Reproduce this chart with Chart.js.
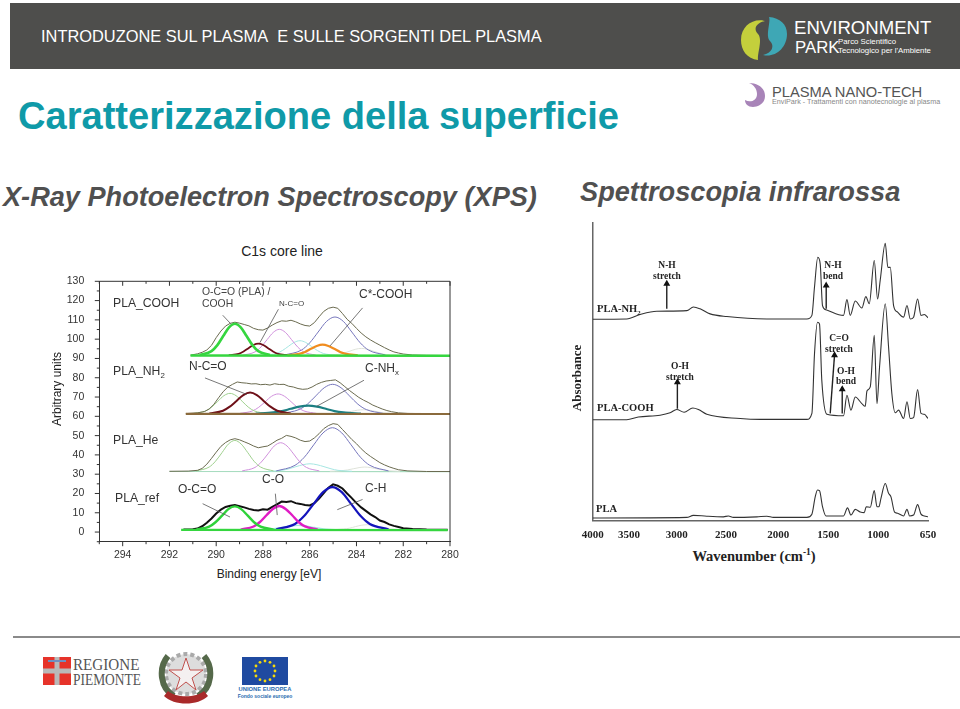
<!DOCTYPE html>
<html lang="it">
<head>
<meta charset="utf-8">
<title>Caratterizzazione della superficie</title>
<script src="https://cdn.jsdelivr.net/npm/chart.js@4"></script>
<style>
  html, body { margin: 0; padding: 0; background: #fff; }
  body { width: 960px; height: 709px; position: relative; overflow: hidden; font-family: "Liberation Sans", Arial, sans-serif; }
  .t { position: absolute; white-space: nowrap; line-height: 1; transform: translateY(-50%); color: #333; }
  .c { transform: translate(-50%, -50%); }
  .ftir { font-family: "Liberation Serif", serif; font-weight: bold; color: #222; }
  canvas, svg { position: absolute; }
  sub { font-size: 65%; line-height: 0; }
  sup { font-size: 65%; line-height: 0; }
  #header { position: absolute; left: 10px; top: 3px; width: 950px; height: 66px; background: #4e4e4c; }
  #footline { position: absolute; left: 13px; top: 636px; width: 947px; height: 2px; background: #8a8a8a; }
</style>
</head>
<body>
<div id="header"></div>
<div class="t" style="left:41px;top:36px;font-size:16.4px;color:#fff">INTRODUZONE SUL PLASMA&nbsp; E SULLE SORGENTI DEL PLASMA</div>

<svg style="left:738px;top:14px" width="52" height="48" viewBox="0 0 52 48">
  <path d="M3 26 C3 12 15 4 27 7 C18 9 15 15 20 20 C25 25 19 40 20 46 C9 45 3 36 3 26 Z" fill="#c4cf3c"/>
  <path d="M49 20 C49 34 37 44 25 41 C34 39 37 32 32 27 C27 22 33 8 31 3 C42 4 49 10 49 20 Z" fill="#3ea7b5"/>
</svg>
<div class="t" style="left:794px;top:28px;font-size:18.6px;color:#fff">ENVIRONMENT</div>
<div class="t" style="left:795px;top:48px;font-size:16.8px;color:#fff">PARK</div>
<div class="t" style="left:838px;top:42px;font-size:7.8px;color:#fff">Parco Scientifico</div>
<div class="t" style="left:838px;top:51px;font-size:7.8px;color:#fff">Tecnologico per l'Ambiente</div>
<svg style="left:744px;top:82px" width="22" height="26" viewBox="0 0 22 26">
  <path d="M5 1 C14 1 21 6 21 14 C21 21 15 25 9 25 C4 25 1 22 1 18 C6 21 13 19 13 12 C13 7 10 3 5 1 Z" fill="#a884b8"/>
</svg>
<div class="t" style="left:772px;top:92px;font-size:14.7px;color:#555">PLASMA NANO-TECH</div>
<div class="t" style="left:772px;top:102px;font-size:7.2px;color:#888">EnviPark - Trattamenti con nanotecnologie al plasma</div>

<div class="t" style="left:18px;top:116px;font-size:38.1px;font-weight:bold;color:#0f9aa8">Caratterizzazione della superficie</div>
<div class="t" style="left:3px;top:197px;font-size:27.15px;font-weight:bold;font-style:italic;color:#505050">X-Ray Photoelectron Spectroscopy (XPS)</div>
<div class="t" style="left:580px;top:192px;font-size:27.2px;font-weight:bold;font-style:italic;color:#505050">Spettroscopia infrarossa</div>

<div class="t c" style="left:282px;top:251px;font-size:14px;color:#222">C1s core line</div>

<canvas id="graficoXps" width="410" height="298" style="left:50px;top:268px"></canvas>
<canvas id="graficoFtir" width="390" height="325" style="left:560px;top:215px"></canvas>

<!-- etichette XPS -->
<div class="t" style="left:113px;top:303px;font-size:12.2px">PLA_COOH</div>
<div class="t" style="left:202px;top:292px;font-size:10.4px;color:#444">O-C=O (PLA) /</div>
<div class="t" style="left:202px;top:304px;font-size:10.4px;color:#444">COOH</div>
<div class="t" style="left:279px;top:304px;font-size:8px;color:#444">N-C=O</div>
<div class="t" style="left:359px;top:294px;font-size:12px">C*-COOH</div>
<div class="t" style="left:113px;top:371px;font-size:12.2px">PLA_NH<sub>2</sub></div>
<div class="t" style="left:189px;top:366px;font-size:12px">N-C=O</div>
<div class="t" style="left:365px;top:368px;font-size:12px">C-NH<sub>x</sub></div>
<div class="t" style="left:113px;top:440px;font-size:12.2px">PLA_He</div>
<div class="t" style="left:115px;top:498px;font-size:12.2px">PLA_ref</div>
<div class="t" style="left:178px;top:489px;font-size:12px">O-C=O</div>
<div class="t" style="left:262px;top:479px;font-size:12px">C-O</div>
<div class="t" style="left:365px;top:488px;font-size:12px">C-H</div>
<div class="t c" style="left:269px;top:574px;font-size:12px;color:#222">Binding energy [eV]</div>
<div class="t c" style="left:57px;top:389px;font-size:12px;color:#222;transform:translate(-50%,-50%) rotate(-90deg)">Arbitrary units</div>

<!-- etichette FTIR -->
<div class="t c ftir" style="left:667px;top:266px;font-size:9.5px">N-H</div>
<div class="t c ftir" style="left:667px;top:277px;font-size:9.5px">stretch</div>
<div class="t c ftir" style="left:833px;top:266px;font-size:9.5px">N-H</div>
<div class="t c ftir" style="left:833px;top:277px;font-size:9.5px">bend</div>
<div class="t ftir" style="left:597px;top:309px;font-size:10.5px">PLA-NH<sub>2</sub></div>
<div class="t c ftir" style="left:680px;top:367px;font-size:9.5px">O-H</div>
<div class="t c ftir" style="left:680px;top:378px;font-size:9.5px">stretch</div>
<div class="t c ftir" style="left:839px;top:339px;font-size:9.5px">C=O</div>
<div class="t c ftir" style="left:839px;top:350px;font-size:9.5px">stretch</div>
<div class="t c ftir" style="left:846px;top:372px;font-size:9.5px">O-H</div>
<div class="t c ftir" style="left:846px;top:382px;font-size:9.5px">bend</div>
<div class="t ftir" style="left:597px;top:408px;font-size:10.5px">PLA-COOH</div>
<div class="t ftir" style="left:596px;top:509px;font-size:10.5px">PLA</div>
<div class="t c ftir" style="left:576px;top:378px;font-size:13px;transform:translate(-50%,-50%) rotate(-90deg)">Absorbance</div>
<div class="t c ftir" style="left:754px;top:556px;font-size:14.5px">Wavenumber (cm<sup>-1</sup>)</div>

<div id="footline"></div>
<svg style="left:43px;top:657px" width="28" height="28" viewBox="0 0 28 28">
  <rect width="28" height="28" fill="#e6332a"/>
  <rect x="11.5" width="5" height="28" fill="#b9b9b9"/>
  <rect y="11.5" width="28" height="5" fill="#b9b9b9"/>
  <rect x="5" y="3" width="18" height="2" fill="#6f8fc0"/>
</svg>
<div class="t" style="left:73px;top:664px;font-family:'Liberation Serif',serif;font-size:17px;color:#555;transform-origin:left center;transform:translateY(-50%) scaleX(.89)">REGIONE</div>
<div class="t" style="left:73px;top:679px;font-family:'Liberation Serif',serif;font-size:17px;color:#555;transform-origin:left center;transform:translateY(-50%) scaleX(.79)">PIEMONTE</div>
<svg style="left:158px;top:646px" width="56" height="62" viewBox="0 0 56 62">
  <circle cx="28" cy="28" r="20" fill="#ddd" stroke="#aaa" stroke-width="4" stroke-dasharray="4 3"/>
  <path d="M10 10 C0 22 2 42 16 50" fill="none" stroke="#55694a" stroke-width="6"/>
  <path d="M46 10 C56 22 54 42 40 50" fill="none" stroke="#55694a" stroke-width="6"/>
  <path d="M28 12 L32 24 L45 24 L34 32 L38 44 L28 36 L18 44 L22 32 L11 24 L24 24 Z" fill="#f4f0f0" stroke="#c0504d" stroke-width="1"/>
  <path d="M6 50 C16 60 40 60 50 50 L46 45 C38 52 18 52 10 45 Z" fill="#a92a2a"/>
</svg>
<svg style="left:242px;top:657px" width="46" height="28" viewBox="0 0 46 28">
  <rect width="46" height="28" fill="#1f4aa0"/>
  <g fill="#f5d90a">
    <circle cx="23" cy="4" r="1.4"/><circle cx="28" cy="5.3" r="1.4"/><circle cx="32" cy="9" r="1.4"/>
    <circle cx="33" cy="14" r="1.4"/><circle cx="32" cy="19" r="1.4"/><circle cx="28" cy="22.7" r="1.4"/>
    <circle cx="23" cy="24" r="1.4"/><circle cx="18" cy="22.7" r="1.4"/><circle cx="14" cy="19" r="1.4"/>
    <circle cx="13" cy="14" r="1.4"/><circle cx="14" cy="9" r="1.4"/><circle cx="18" cy="5.3" r="1.4"/>
  </g>
</svg>
<div class="t c" style="left:265px;top:690px;font-size:5.8px;font-weight:bold;color:#2b6cb0">UNIONE EUROPEA</div>
<div class="t c" style="left:265px;top:696px;font-size:5px;font-weight:bold;color:#2b6cb0">Fondo sociale europeo</div>

<script>
// --- XPS: energie (eV) e intensita', una coppia per curva ---
const coohEnvE = [291.1,290.8,290.6,290.4,290.2,290,289.8,289.6,289.4,289.2,289,288.8,288.6,288.4,288.2,288,287.8,287.6,287.4,287.2,287,286.8,286.6,286.4,286.2,286,285.8,285.6,285.4,285.2,285,284.8,284.6,284.4,284.2,284,283.8,283.6,283.4,283.2,283,282.8,282.6,282.4,282.2,282,281.6,281,280];
const coohEnvY = [91.7,92.4,93.2,94.4,96.8,100.8,104.2,106.8,108.2,108.8,108.3,107.6,106.9,105.6,104.9,104.7,105.8,107.3,108.6,109.5,109.3,109.8,109,107.9,107.1,106.8,108.6,111.6,114.4,116,116.6,116,113.3,110.3,108.2,105.6,103.2,101.2,99.6,98.2,96.9,95.6,94.4,93.4,92.8,92.3,91.8,91.6,91.5];
const coohGreenE = [290.7,290.2,289.95,289.7,289.45,289.2,288.95,288.7,288.45,288.2,287.7];
const coohGreenY = [91.8,93.8,96.9,101.6,106.1,108,106.1,101.6,96.9,93.8,91.8];
const coohRedE = [289.46,289.04,288.83,288.62,288.41,288.2,287.99,287.78,287.57,287.36,286.94];
const coohRedY = [91.7,92.4,93.6,95.3,97,97.7,97,95.3,93.6,92.4,91.7];
const coohMagE = [288.86,288.34,288.08,287.82,287.56,287.3,287.04,286.78,286.52,286.26,285.74];
const coohMagY = [91.7,93.4,96,99.8,103.5,105.1,103.5,99.8,96,93.4,91.7];
const coohCyanE = [287.92,287.42,287.17,286.92,286.67,286.42,286.17,285.92,285.67,285.42,284.92];
const coohCyanY = [91.7,92.6,94.1,96.2,98.3,99.2,98.3,96.2,94.1,92.6,91.7];
const coohOrangeE = [286.95,286.45,286.2,285.95,285.7,285.45,285.2,284.95,284.7,284.45,283.95];
const coohOrangeY = [91.7,92.4,93.4,95,96.5,97.2,96.5,95,93.4,92.4,91.7];
const coohBlueE = [287.08,286.36,286,285.64,285.28,284.92,284.56,284.2,283.84,283.48,282.76];
const coohBlueY = [91.8,94.3,98.1,103.7,109.2,111.5,109.2,103.7,98.1,94.3,91.8];
const coohPaleE = [285.28,284.78,284.53,284.28,284.03,283.78,283.53,283.28,283.03,282.78,282.28];
const coohPaleY = [91.6,92.1,92.8,93.8,94.8,95.2,94.8,93.8,92.8,92.1,91.6];
const coohBaseE = [291.1,280];
const coohBaseY = [91.5,91.4];

const nh2EnvE = [291.3,290.8,290.5,290.3,290.1,289.9,289.7,289.5,289.3,289.1,288.9,288.7,288.5,288.3,288.1,287.9,287.7,287.5,287.3,287.1,286.9,286.7,286.5,286.3,286.1,285.9,285.7,285.5,285.3,285.1,284.9,284.7,284.5,284.3,284.1,283.9,283.7,283.5,283.3,283.1,282.9,282.7,282.5,282.2,281.8,281,280];
const nh2EnvY = [61.4,61.8,62.5,63.8,66.2,69.6,72.8,75.2,76.6,77.8,77.4,77.2,76.8,76.9,76.4,76.6,76.2,76.9,76.5,76.6,75.6,75.2,74.4,74,74.2,75.2,76.6,77.6,78.3,78.6,78.9,77.4,75.4,73.4,71.6,69.8,68.4,67.2,65.8,64.8,63.8,63,62.4,61.8,61.5,61.4,61.3];
const nh2GreenE = [290.97,290.45,290.19,289.93,289.67,289.41,289.15,288.89,288.63,288.37,287.85];
const nh2GreenY = [61.5,62.8,64.8,67.8,70.7,71.9,70.7,67.8,64.8,62.8,61.5];
const nh2RedE = [290.29,289.71,289.42,289.13,288.84,288.55,288.26,287.97,287.68,287.39,286.81];
const nh2RedY = [61.5,62.9,65,68,71,72.3,71,68,65,62.9,61.5];
const nh2MagE = [289,288.45,288.18,287.9,287.63,287.35,287.08,286.8,286.53,286.25,285.7];
const nh2MagY = [61.5,62.8,64.7,67.6,70.4,71.6,70.4,67.6,64.7,62.8,61.5];
const nh2TealE = [288.31,287.56,287.19,286.81,286.44,286.06,285.69,285.31,284.94,284.56,283.81];
const nh2TealY = [61.4,62,62.7,63.9,65,65.5,65,63.9,62.7,62,61.4];
const nh2BlueE = [287.18,286.46,286.1,285.74,285.38,285.02,284.66,284.3,283.94,283.58,282.86];
const nh2BlueY = [61.5,63.5,66.3,70.6,74.8,76.6,74.8,70.6,66.3,63.5,61.5];
const nh2PaleE = [285.2,284.7,284.45,284.2,283.95,283.7,283.45,283.2,282.95,282.7,282.2];
const nh2PaleY = [61.4,61.7,62,62.6,63.2,63.4,63.2,62.6,62,61.7,61.4];
const nh2BaseE = [291.3,280];
const nh2BaseY = [61.3,61.2];

const heEnvE = [292,291.2,290.8,290.6,290.4,290.2,290,289.8,289.6,289.4,289.2,289,288.8,288.6,288.4,288.2,288,287.8,287.6,287.4,287.2,287,286.8,286.6,286.4,286.2,286,285.8,285.6,285.4,285.2,285,284.8,284.6,284.4,284.2,284,283.8,283.6,283.4,283.2,283,282.8,282.6,282.4,282.2,281.8,281,280];
const heEnvY = [31.5,31.6,32,33,35.2,38.2,41.4,44.4,46.4,47.8,48.4,47.8,46.8,45.8,44.6,43.7,44.2,44.6,46,47.6,48.6,50.1,49.6,48.8,47.6,46.9,47.2,48.8,51,53.6,55.2,56.2,55.8,53.2,50.6,48,45.8,43.2,41,39.2,37.6,36,34.8,33.8,33,32.3,31.7,31.4,31.4];
const heGreenE = [290.85,290.3,290.03,289.75,289.48,289.2,288.93,288.65,288.38,288.1,287.55];
const heGreenY = [31.7,33.7,36.7,41.2,45.6,47.5,45.6,41.2,36.7,33.7,31.7];
const heMagE = [288.89,288.34,288.07,287.79,287.52,287.24,286.97,286.69,286.42,286.14,285.59];
const heMagY = [31.7,33.5,36.3,40.5,44.6,46.3,44.6,40.5,36.3,33.5,31.7];
const heBlueE = [287.43,286.63,286.23,285.83,285.43,285.03,284.63,284.23,283.83,283.43,282.63];
const heBlueY = [31.7,34.6,38.8,45.2,51.4,54.1,51.4,45.2,38.8,34.6,31.7];
const heCyanE = [287.79,287.19,286.89,286.59,286.29,285.99,285.69,285.39,285.09,284.79,284.19];
const heCyanY = [31.5,32,32.8,33.9,34.9,35.4,34.9,33.9,32.8,32,31.5];
const hePaleE = [285.14,284.64,284.39,284.14,283.89,283.64,283.39,283.14,282.89,282.64,282.14];
const hePaleY = [31.5,31.8,32.2,32.8,33.4,33.7,33.4,32.8,32.2,31.8,31.5];
const heBaseE = [292,280];
const heBaseY = [31.4,31.3];

const refEnvE = [291.4,291,290.8,290.6,290.4,290.2,290,289.8,289.6,289.4,289.2,289,288.8,288.6,288.4,288.2,288,287.8,287.6,287.4,287.2,287,286.8,286.6,286.4,286.2,286,285.8,285.6,285.4,285.2,285,284.8,284.6,284.4,284.2,284,283.8,283.6,283.4,283.2,283,282.8,282.6,282.4,282.2,282,281.6,281,280.1];
const refEnvY = [1.3,1.5,1.8,3,4.8,7,9.6,11.6,13,13.6,14,13.4,12.8,12,11.4,11.2,11.8,11.6,13,14.4,15.8,15.6,16,15,14.6,14,13.8,15,17.4,20.2,23,24.7,24,22.6,20,17.6,15,12.8,11,9.2,7.8,6,5.2,4,3.2,2.6,2,1.6,1.3,1.2];
const refGreenY = [1.3,2.8,5.1,8.5,11.9,13.3,11.9,8.5,5.1,2.8,1.3];
const refMagE = [288.95,288.4,288.13,287.85,287.58,287.3,287.03,286.75,286.48,286.2,285.65];
const refMagY = [1.3,2.9,5.2,8.7,12,13.5,12,8.7,5.2,2.9,1.3];
const refBlueY = [1.4,4.2,8.4,14.6,20.7,23.3,20.7,14.6,8.4,4.2,1.4];
const refCyanE = [288.3,287.7,287.4,287.1,286.8,286.5,286.2,285.9,285.6,285.3,284.7];
const refCyanY = [1.2,1.5,2,2.6,3.2,3.5,3.2,2.6,2,1.5,1.2];
const refPaleE = [285.05,284.55,284.3,284.05,283.8,283.55,283.3,283.05,282.8,282.55,282.05];
const refPaleY = [1.2,1.6,2,2.8,3.5,3.8,3.5,2.8,2,1.6,1.2];
const refBaseE = [291.5,280.1];
const refBaseY = [1.1,1];

// linee guida delle etichette: [E1, y1, E2, y2]
const guideLines = [
  [289.72,112.4,289.38,108],
  [287.34,115.5,288.13,98.2],
  [283.74,116.2,285.13,96.5],
  [290.48,79.9,288.7,71.4],
  [283.68,78.7,285.7,65.2],
  [290.58,14.7,289.41,7.8],
  [287.47,19.9,287.39,8.8],
  [283.74,16.9,284.82,11.6]
];

// --- FTIR ---
const plaCm = [4000,3060,2994,2860,2694,2644,2594,2360,2260,2194,1860,1810,1777,1754,1734,1704,1670,1494,1454,1420,1377,1327,1287,1267,1227,1187,1160,1140,1120,1077,1044,1020,984,954,894,860,834,794,754,720,687,650];
const plaAbs = [0.9,1.1,1.8,1.5,1.3,1.6,1.1,1.3,1.5,1.1,1.1,2.2,8,10.3,10.1,4.7,1.6,1.6,4.3,1.9,3.8,2.9,2.7,4.7,4.5,10.1,4.7,4.7,7.5,12.5,9.2,8,2.9,2.5,1.6,3.8,1.6,1.9,5.4,2.2,1.6,1.3];
const coohCm = [4000,3660,3544,3327,3227,3160,3087,3000,2944,2860,2527,2327,1860,1810,1784,1754,1734,1711,1660,1494,1460,1420,1377,1311,1277,1260,1227,1187,1160,1134,1077,1044,1011,977,944,894,860,827,794,754,720,687,650];
const coohAbs = [33.9,33.9,34.8,35.4,36.2,37.3,36.4,37.8,37.3,35.7,34.3,34,34,36,56,66.6,66,47.1,35.7,35.2,42.1,37.1,41.5,39.3,38.4,43.5,44.9,62.2,39.3,51.6,72.8,58.3,42.6,36.2,37.1,34.3,39.9,34.3,34.6,44,36,35.7,34.3];
const nh2Cm = [4000,3660,3527,3360,3060,2994,2927,2827,2660,2260,1860,1810,1784,1751,1727,1704,1670,1494,1460,1427,1377,1311,1271,1237,1187,1154,1127,1077,1051,1027,994,954,894,860,827,794,754,720,687,650];
const nh2Abs = [67.6,67.7,69.2,70.3,70.5,71.7,71.1,69.4,68.5,67.7,67.7,68.9,78.4,88.4,86.2,72.2,70.8,68.9,74.2,68.9,73.7,71.4,75.2,72.8,87.3,74.4,80.8,93.1,85,85,72.2,70,68.3,72.2,67.7,68.3,74.4,68.9,69.2,68.1];

// la scala stampata nella figura non e' regolare: posizione sull'asse e testo stampato
const ftirTickPos = [4000,3637,3160,2667,2147,1647,1147,650];
const ftirTickLabels = ['4000','3500','3000','2500','2000','1500','1000','650'];

// frecce: [cm1, abs1, cm2, abs2], la punta e' sul secondo punto
const ftirArrows = [
  [3260,71.1,3260,79.5],
  [1667,71.1,1667,78.9],
  [3154,37.6,3154,46.5],
  [1627,36,1584,55.5],
  [1507,36,1507,44.1]
];

function punti(xs, ys) {
  return xs.map((x, i) => ({ x, y: ys[i] }));
}

function curva(xs, ys, color, width, liscia) {
  return {
    data: punti(xs, ys),
    borderColor: color,
    borderWidth: width,
    pointRadius: 0,
    showLine: true,
    fill: false,
    cubicInterpolationMode: liscia ? 'monotone' : 'default',
    tension: 0
  };
}

const cGreen = '#35d63f', cGreenThin = '#9fd08e', cRed = '#6e1018', cMag = '#d090dc', cCyan = '#a6e6e2';
const cOrange = '#f08c1e', cBlue = '#7676bc', cPale = '#dfe3da', cEnv = '#6b6b50';

// i primi dataset finiscono sopra, quindi prima i tratti spessi
const xpsDatasets = [
  curva(coohGreenE, coohGreenY, cGreen, 2.6, true),
  curva(coohBaseE, coohBaseY, cGreen, 2.4),
  curva(coohOrangeE, coohOrangeY, cOrange, 2.2, true),
  curva(coohRedE, coohRedY, cRed, 1.8, true),
  curva(coohEnvE, coohEnvY, cEnv, 1),
  curva(coohMagE, coohMagY, cMag, 1, true),
  curva(coohCyanE, coohCyanY, cCyan, 1, true),
  curva(coohBlueE, coohBlueY, cBlue, 1, true),
  curva(coohPaleE, coohPaleY, cPale, 1, true),

  curva(nh2BaseE, nh2BaseY, '#8a6a3c', 2.2),
  curva(nh2RedE, nh2RedY, cRed, 2, true),
  curva(nh2TealE, nh2TealY, '#1c7f82', 2.2, true),
  curva(nh2EnvE, nh2EnvY, cEnv, 1),
  curva(nh2GreenE, nh2GreenY, cGreenThin, 1, true),
  curva(nh2MagE, nh2MagY, cMag, 1, true),
  curva(nh2BlueE, nh2BlueY, cBlue, 1, true),
  curva(nh2PaleE, nh2PaleY, cPale, 1, true),

  curva(heEnvE, heEnvY, cEnv, 1),
  curva(heGreenE, heGreenY, cGreenThin, 1, true),
  curva(heMagE, heMagY, cMag, 1, true),
  curva(heBlueE, heBlueY, cBlue, 1, true),
  curva(heCyanE, heCyanY, cCyan, 1, true),
  curva(hePaleE, hePaleY, cPale, 1, true),
  curva(heBaseE, heBaseY, '#a8dcc0', 1.2),

  curva(refBaseE, refBaseY, cGreen, 2.2),
  curva(heGreenE, refGreenY, '#2fd23a', 2.4, true),
  curva(refMagE, refMagY, '#e01cc4', 2.4, true),
  curva(heBlueE, refBlueY, '#1414bc', 2.2, true),
  curva(refEnvE, refEnvY, '#111', 2),
  curva(refCyanE, refCyanY, cCyan, 1.2, true),
  curva(refPaleE, refPaleY, cPale, 1, true)
];

guideLines.forEach(g => {
  xpsDatasets.unshift(curva([g[0], g[2]], [g[1], g[3]], '#555', 0.8));
});

// tacche maggiori/minori e bordo superiore e destro, come nel programma di origine
const tacchePlugin = {
  id: 'tacche',
  afterDatasetsDraw(chart) {
    const { ctx, chartArea: a, scales } = chart;
    ctx.save();
    ctx.strokeStyle = '#333';
    ctx.lineWidth = 1;
    ctx.beginPath();
    ctx.moveTo(a.left, a.top); ctx.lineTo(a.right, a.top); ctx.lineTo(a.right, a.bottom);
    scales.x.ticks.forEach(t => {
      const px = scales.x.getPixelForValue(t.value);
      const len = t.value % 2 === 0 ? 4.5 : 2.5;
      ctx.moveTo(px, a.bottom); ctx.lineTo(px, a.bottom + len);
      ctx.moveTo(px, a.top); ctx.lineTo(px, a.top + len);
    });
    scales.y.ticks.forEach(t => {
      const py = scales.y.getPixelForValue(t.value);
      const len = t.value % 10 === 0 ? 4.5 : 2.5;
      ctx.moveTo(a.left, py); ctx.lineTo(a.left - len, py);
    });
    ctx.stroke();
    ctx.restore();
  }
};

new Chart(document.getElementById('graficoXps').getContext('2d'), {
  type: 'scatter',
  data: { datasets: xpsDatasets },
  plugins: [tacchePlugin],
  options: {
    responsive: false,
    animation: false,
    layout: { padding: { top: 10, right: 10, left: 0, bottom: 0 } },
    plugins: { legend: { display: false }, tooltip: { enabled: false } },
    scales: {
      x: {
        type: 'linear',
        reverse: true,
        min: 280,
        max: 295,
        afterFit: s => { s.height = 24.3; },
        grid: { display: false },
        border: { display: true, color: '#333' },
        ticks: {
          stepSize: 1,
          autoSkip: false,
          maxRotation: 0,
          padding: -1,
          color: '#333',
          font: { family: 'Liberation Sans', size: 10.5 },
          callback: value => (value % 2 === 0 ? String(value) : '')
        }
      },
      y: {
        min: -5,
        max: 130,
        afterFit: s => { s.width = 49.3; },
        grid: { display: false },
        border: { display: true, color: '#333' },
        ticks: {
          stepSize: 5,
          autoSkip: false,
          padding: 7,
          color: '#333',
          font: { family: 'Liberation Sans', size: 10.5 },
          callback: value => (value % 10 === 0 && value >= 0 ? String(value) : '')
        }
      }
    }
  }
});

const ftirDatasets = [
  curva(nh2Cm, nh2Abs, '#333', 1.1, true),
  curva(coohCm, coohAbs, '#333', 1.1, true),
  curva(plaCm, plaAbs, '#333', 1.1, true)
];
ftirArrows.forEach(f => {
  const d = curva([f[0], f[2]], [f[1], f[3]], '#222', 1.4);
  d.pointStyle = 'triangle';
  d.pointRadius = [0, 2.6];
  d.pointRotation = 0;
  d.pointBackgroundColor = '#111';
  d.pointBorderColor = '#111';
  ftirDatasets.push(d);
});

new Chart(document.getElementById('graficoFtir').getContext('2d'), {
  type: 'scatter',
  data: { datasets: ftirDatasets },
  options: {
    responsive: false,
    animation: false,
    layout: { padding: { top: 7.7, right: 22, left: 0, bottom: 0 } },
    plugins: { legend: { display: false }, tooltip: { enabled: false } },
    scales: {
      x: {
        type: 'linear',
        reverse: true,
        min: 650,
        max: 4000,
        afterFit: s => { s.height = 19.3; },
        afterBuildTicks: s => { s.ticks = ftirTickPos.map(v => ({ value: v })); },
        grid: { display: false, drawTicks: false },
        border: { display: true, color: '#666', width: 1.5 },
        ticks: {
          autoSkip: false,
          maxRotation: 0,
          padding: 8,
          color: '#222',
          font: { family: 'Liberation Serif', size: 11, weight: 'bold' },
          callback: (value, index) => ftirTickLabels[index]
        }
      },
      y: {
        min: 0,
        max: 100,
        afterFit: s => { s.width = 32.7; },
        grid: { display: false, drawTicks: false },
        border: { display: true, color: '#666', width: 1.5 },
        ticks: { display: false }
      }
    }
  }
});
</script>
</body>
</html>
